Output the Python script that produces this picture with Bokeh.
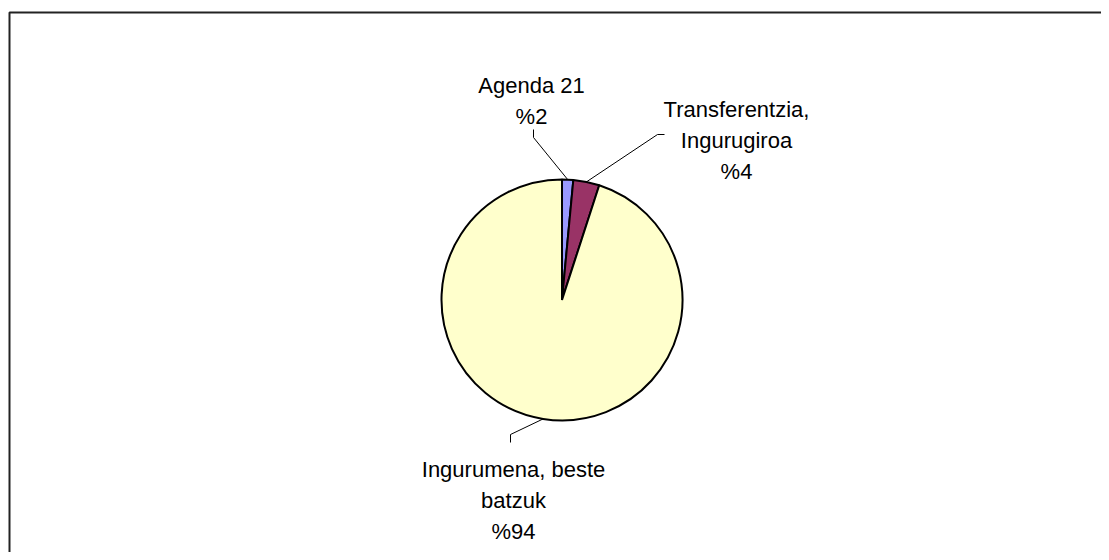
import numpy as np
from bokeh.plotting import figure
from bokeh.models import Range1d
from bokeh.core.properties import value
from bokeh.embed import file_html
from bokeh.resources import INLINE

# ---- data ----
categories = ["Agenda 21", "Transferentzia,\nIngurugiroa", "Ingurumena, beste\nbatzuk"]
shares = [1.5, 3.5, 95.0]
pct_labels = ["%2", "%4", "%94"]
colors = ["#9999FF", "#993366", "#FFFFCC"]

# ---- layout (pixel space of the figure) ----
W, H = 1101, 552
p = figure(width=W, height=H, x_range=Range1d(0, W), y_range=Range1d(0, H),
           output_backend="svg", toolbar_location=None, min_border=0)
p.axis.visible = False
p.grid.visible = False
p.outline_line_color = None
p.background_fill_color = "white"
p.border_fill_color = "white"

def img_y(y):
    return H - y

def img_x(x):
    return x

# chart frame (left and top edges visible; right/bottom run off the page)
p.line([img_x(9), img_x(9), img_x(1200)], [img_y(700), img_y(12), img_y(12)],
       line_color="#222222", line_width=2)

cx, cy, r = img_x(561.5), img_y(299.4), 120.5
frac = np.array(shares) / np.sum(shares)
cum = np.concatenate([[0], np.cumsum(frac)])
starts = np.pi / 2 - 2 * np.pi * cum[:-1]
ends = np.pi / 2 - 2 * np.pi * cum[1:]
p.wedge(x=[cx] * 3, y=[cy] * 3, radius=r, start_angle=list(starts), end_angle=list(ends),
        direction="clock", fill_color=colors, line_color="black", line_width=2)

mids = (starts + ends) / 2
edge_x = cx + r * np.cos(mids)
edge_y = cy + r * np.sin(mids)

# leader elbows and label anchors (image coordinates)
elbows = [((533, 137), (533, 129)), ((657, 134), (664, 134)), ((510, 434), (510, 442))]
label_pos = [(531, 85), (736, 109), (513, 469)]
line_gap = 31

for i in range(3):
    (ex1, ey1), (ex2, ey2) = elbows[i]
    p.line([edge_x[i], img_x(ex1), img_x(ex2)], [edge_y[i], img_y(ey1), img_y(ey2)],
           line_color="black", line_width=1)
    lines = categories[i].split("\n") + [pct_labels[i]]
    lx, ly = label_pos[i]
    p.text(x=[img_x(lx)] * len(lines), y=[img_y(ly + k * line_gap) for k in range(len(lines))],
           text=lines, text_align="center", text_baseline="alphabetic",
           text_font=value("Liberation Sans"), text_font_size="22px", text_color="black")

open("out.html", "w").write(file_html(p, INLINE))
